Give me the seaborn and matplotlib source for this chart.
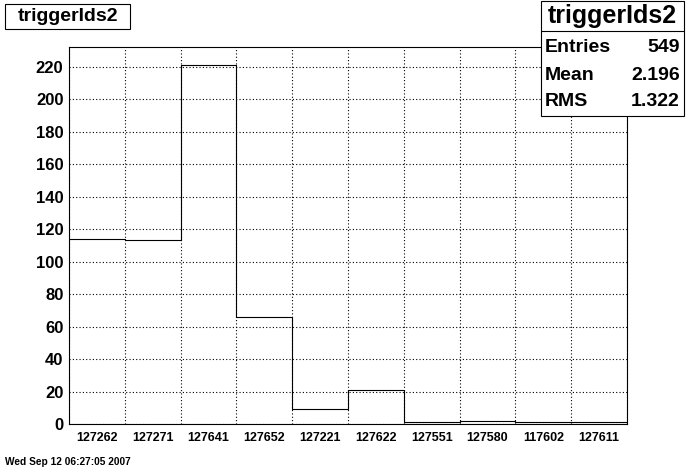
import numpy as np
import pandas as pd
import matplotlib
matplotlib.use("Agg")
import matplotlib.pyplot as plt
from matplotlib.ticker import MultipleLocator, FixedLocator
from matplotlib.patches import Rectangle
from matplotlib.lines import Line2D
import seaborn as sns

# du lieu histogram
trigger_ids = ["127262", "127271", "127641", "127652", "127221",
               "127622", "127551", "127580", "117602", "127611"]
counts = [114, 113, 221, 66, 9, 21, 1, 2, 1, 1]
stat_names = ["Entries", "Mean", "RMS"]
stat_values = ["549", "2.196", "1.322"]
hist_name = "triggerIds2"
date_text = "Wed Sep 12 06:27:05 2007"

sns.set_theme(style="white")
plt.rcParams['font.family'] = ['Liberation Sans', 'DejaVu Sans']
plt.rcParams['font.weight'] = 'bold'
plt.rcParams['text.color'] = 'black'
plt.rcParams['xtick.color'] = 'black'
plt.rcParams['ytick.color'] = 'black'
plt.rcParams['axes.labelcolor'] = 'black'

n = len(counts)
df = pd.DataFrame({"bin": np.arange(n), "count": counts})

W, H = 696, 472
fig = plt.figure(figsize=(W / 100, H / 100), dpi=100, facecolor="white")
ax = fig.add_axes([69 / W, 1 - 424 / H, (627 - 69) / W, (424 - 47) / H])
ax.set_facecolor("white")

sns.histplot(data=df, x="bin", weights="count", discrete=True,
             element="step", fill=False, color="black", linewidth=0.8, ax=ax)

ax.set_xlim(-0.5, n - 0.5)
ax.set_ylim(0, max(counts) * 1.05)
ax.set_xlabel("")
ax.set_ylabel("")

# truc x: vach o canh bin, nhan o giua bin
ax.xaxis.set_major_locator(FixedLocator(np.arange(n + 1) - 0.5))
ax.xaxis.set_minor_locator(FixedLocator(np.arange(n)))
ax.set_xticklabels([])
ax.set_xticklabels(trigger_ids, minor=True, fontsize=9, fontweight="bold")
ax.tick_params(axis="x", which="major", direction="in", length=10, width=0.8, color="black")
ax.tick_params(axis="x", which="minor", length=0, pad=6, labelcolor="black")

# truc y
ax.yaxis.set_major_locator(MultipleLocator(20))
ax.yaxis.set_minor_locator(MultipleLocator(5))
ax.tick_params(axis="y", which="major", direction="in", length=7, width=0.8,
               labelsize=12, pad=4, color="black", labelcolor="black")
ax.tick_params(axis="y", which="minor", direction="in", length=4, width=0.8, color="black")
for lab in ax.get_yticklabels():
    lab.set_fontweight("bold")

ax.grid(True, which="major", linestyle=(0, (1, 2)), color="black", linewidth=0.8)
for s in ax.spines.values():
    s.set_color("black")
    s.set_linewidth(0.8)

# hop tieu de
fig.patches.append(Rectangle((5 / W, 1 - 29 / H), (130 - 5) / W, 25 / H,
                             transform=fig.transFigure, fill=False,
                             edgecolor="black", linewidth=0.8))
fig.text(68.5 / W, 1 - 16.5 / H, hist_name, ha="center", va="center",
         fontsize=14, fontweight="bold", color="black")

# hop thong ke
bx0, bx1, by0, by1 = 541, 684, 1, 116
fig.patches.append(Rectangle((bx0 / W, 1 - by1 / H), (bx1 - bx0) / W, (by1 - by0) / H,
                             transform=fig.transFigure, facecolor="white",
                             edgecolor="black", linewidth=0.8, zorder=5))
fig.lines.append(Line2D([bx0 / W, bx1 / W], [1 - 31 / H, 1 - 31 / H],
                        transform=fig.transFigure, color="black", linewidth=0.8, zorder=6))
fig.text((bx0 + bx1) / 2 / W, 1 - 16 / H, hist_name, ha="center", va="center",
         fontsize=18, fontweight="bold", color="black", zorder=7)
for i, (nm, val) in enumerate(zip(stat_names, stat_values)):
    yy = 1 - (48 + i * 27) / H
    fig.text(545 / W, yy, nm, ha="left", va="center", fontsize=14,
             fontweight="bold", color="black", zorder=7)
    fig.text(680 / W, yy, val, ha="right", va="center", fontsize=14,
             fontweight="bold", color="black", zorder=7)

fig.text(5 / W, 1 - 462 / H, date_text, ha="left", va="center",
         fontsize=7.3, fontweight="bold", color="black")

fig.savefig("out.png", dpi=100, facecolor="white")
